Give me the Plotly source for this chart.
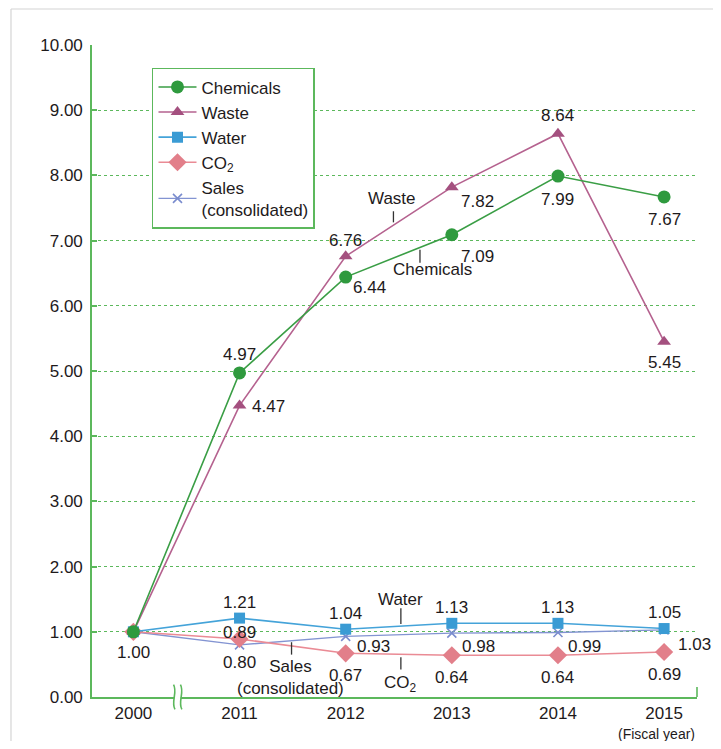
import plotly.graph_objects as go

years = ["2000", "2011", "2012", "2013", "2014", "2015"]
chemicals = [1.00, 4.97, 6.44, 7.09, 7.99, 7.67]
waste = [1.00, 4.47, 6.76, 7.82, 8.64, 5.45]
water = [1.00, 1.21, 1.04, 1.13, 1.13, 1.05]
co2 = [1.00, 0.89, 0.67, 0.64, 0.64, 0.69]
sales = [1.00, 0.80, 0.93, 0.98, 0.99, 1.03]
y_ticks = [0, 1, 2, 3, 4, 5, 6, 7, 8, 9, 10]

FONT = "Liberation Sans, Arial, sans-serif"
TXT = "#1e1a1b"
GREEN_AX = "#5cb85c"
xs = list(range(len(years)))
XMIN, XMAX = -0.39, 5.31

fig = go.Figure()
series = [
    ("Chemicals", chemicals, "#3a9e45", "#2f9a3e", "circle", 13, 1.6),
    ("Waste", waste, "#b5628f", "#a4507f", "triangle-up", 12, 1.6),
    ("Water", water, "#44a3d9", "#3a9bd4", "square", 11, 1.6),
    ("CO<sub>2</sub>", co2, "#ea8b95", "#e27f8a", "diamond", 14, 1.6),
    ("Sales<br>(consolidated)", sales, "#8394d2", "#7a8cce", "x-thin", 9, 1.4),
]
# draw in reverse so Chemicals sits on top; legend order reversed back
for name, vals, lc, mc, sym, sz, lw in reversed(series):
    marker = dict(symbol=sym, size=sz, color=mc)
    if sym == "x-thin":
        marker["line"] = dict(color=mc, width=1.6)
    fig.add_trace(go.Scatter(
        x=xs, y=vals, name=name, mode="lines+markers",
        line=dict(color=lc, width=lw), marker=marker, cliponaxis=False,
    ))

# data labels: (values, index, xshift, yshift, xanchor)
labels = [
    (chemicals, 0, 0, -21, "center"),
    (chemicals, 1, 0, 18, "center"),
    (chemicals, 2, 5, -10, "left"),
    (chemicals, 3, 7, -22, "left"),
    (chemicals, 4, 0, -23, "center"),
    (chemicals, 5, 0, -23, "center"),
    (waste, 1, 10, -1, "left"),
    (waste, 2, 0, 16, "center"),
    (waste, 3, 7, -14, "left"),
    (waste, 4, 0, 18, "center"),
    (waste, 5, 0, -21, "center"),
    (water, 1, 0, 16, "center"),
    (water, 2, 0, 16, "center"),
    (water, 3, 0, 16, "center"),
    (water, 4, 0, 16, "center"),
    (water, 5, 0, 16, "center"),
    (co2, 1, 0, 6, "center"),
    (co2, 2, 0, -22, "center"),
    (co2, 3, 0, -22, "center"),
    (co2, 4, 0, -22, "center"),
    (co2, 5, 0, -22, "center"),
    (sales, 1, 0, -18, "center"),
    (sales, 2, 9, -10, "left"),
    (sales, 3, 8, -13, "left"),
    (sales, 4, 8, -14, "left"),
    (sales, 5, 12, -15, "left"),
]
for vals, i, dx, dy, xa in labels:
    fig.add_annotation(x=xs[i], y=vals[i], text=f"{vals[i]:.2f}", showarrow=False,
                       xshift=dx, yshift=dy, xanchor=xa,
                       font=dict(family=FONT, size=17, color=TXT))

# callout labels with leader lines
callouts = [
    ("Waste", 2.44, 7.64, 2.45, 7.45, 7.28),
    ("Chemicals", 2.82, 6.55, 2.70, 6.86, 6.66),
    ("Water", 2.52, 1.49, 2.52, 1.36, 1.12),
    ("Sales<br>(consolidated)", 1.48, 0.30, 1.49, 0.84, 0.65),
    ("CO<sub>2</sub>", 2.52, 0.20, 2.52, 0.61, 0.42),
]
for text, tx, ty, lx, ly0, ly1 in callouts:
    fig.add_annotation(x=tx, y=ty, text=text, showarrow=False,
                       font=dict(family=FONT, size=17, color=TXT))
    fig.add_shape(type="line", x0=lx, x1=lx, y0=ly0, y1=ly1, xref="x", yref="y",
                  line=dict(color="#333333", width=1.3), layer="above")

fig.add_annotation(x=5, y=0, yref="y", text="(Fiscal year)", showarrow=False,
                   yshift=-37, xshift=-8, font=dict(family=FONT, size=14, color=TXT))

# axis break symbol
def px(v):
    return (v - XMIN) / (XMAX - XMIN)

bx = 0.415
fig.add_shape(type="rect", xref="paper", yref="paper", x0=px(bx - 0.03), x1=px(bx + 0.03),
              y0=-0.004, y1=0.004, fillcolor="white", line=dict(width=0), layer="above")
for off in (-0.03, 0.035):
    c = px(bx + off)
    d = 0.006
    fig.add_shape(type="path", xref="paper", yref="paper",
                  path=f"M {c - d*0.2},0.019 C {c + d},0.008 {c - d},-0.008 {c + d*0.2},-0.019",
                  line=dict(color=GREEN_AX, width=1.6), layer="above")

# right-end tick on x axis
fig.add_shape(type="line", xref="paper", yref="paper", x0=1, x1=1, y0=0, y1=0.0155,
              line=dict(color=GREEN_AX, width=1.6), layer="above")
# light frame
fig.add_shape(type="line", xref="paper", yref="paper", x0=-0.1339, x1=1.1, y0=1.0552, y1=1.0552,
              line=dict(color="#d4d4d4", width=1.2))
fig.add_shape(type="line", xref="paper", yref="paper", x0=-0.1339, x1=-0.1339, y0=1.0552, y1=-0.1,
              line=dict(color="#d4d4d4", width=1.2))

fig.update_layout(
    width=713, height=733,
    margin=dict(l=84, r=24, t=37, b=44),
    paper_bgcolor="white", plot_bgcolor="white",
    font=dict(family=FONT, size=17, color=TXT),
    showlegend=True,
    legend=dict(x=0.099, y=0.965, xanchor="left", yanchor="top",
                bordercolor=GREEN_AX, borderwidth=1.6, bgcolor="white",
                font=dict(family=FONT, size=17, color=TXT), tracegroupgap=0,
                itemwidth=38, traceorder="reversed"),
    xaxis=dict(range=[XMIN, XMAX], tickmode="array", tickvals=xs, ticktext=years,
               showgrid=False, zeroline=False, showline=True, linecolor=GREEN_AX,
               linewidth=1.6, ticks="", ticklabelstandoff=0,
               tickfont=dict(family=FONT, size=17, color=TXT)),
    yaxis=dict(range=[0, 10], tickmode="array", tickvals=y_ticks,
               ticktext=[f"{v:.2f}" for v in y_ticks],
               showgrid=True, gridcolor="#5cb85c", griddash="dot", gridwidth=1.4,
               zeroline=False, showline=True, linecolor=GREEN_AX, linewidth=1.6,
               ticks="inside", ticklen=5, tickcolor=GREEN_AX, tickwidth=1.6,
               ticklabelstandoff=4,
               tickfont=dict(family=FONT, size=17, color=TXT)),
)

fig.write_html("out.html")
